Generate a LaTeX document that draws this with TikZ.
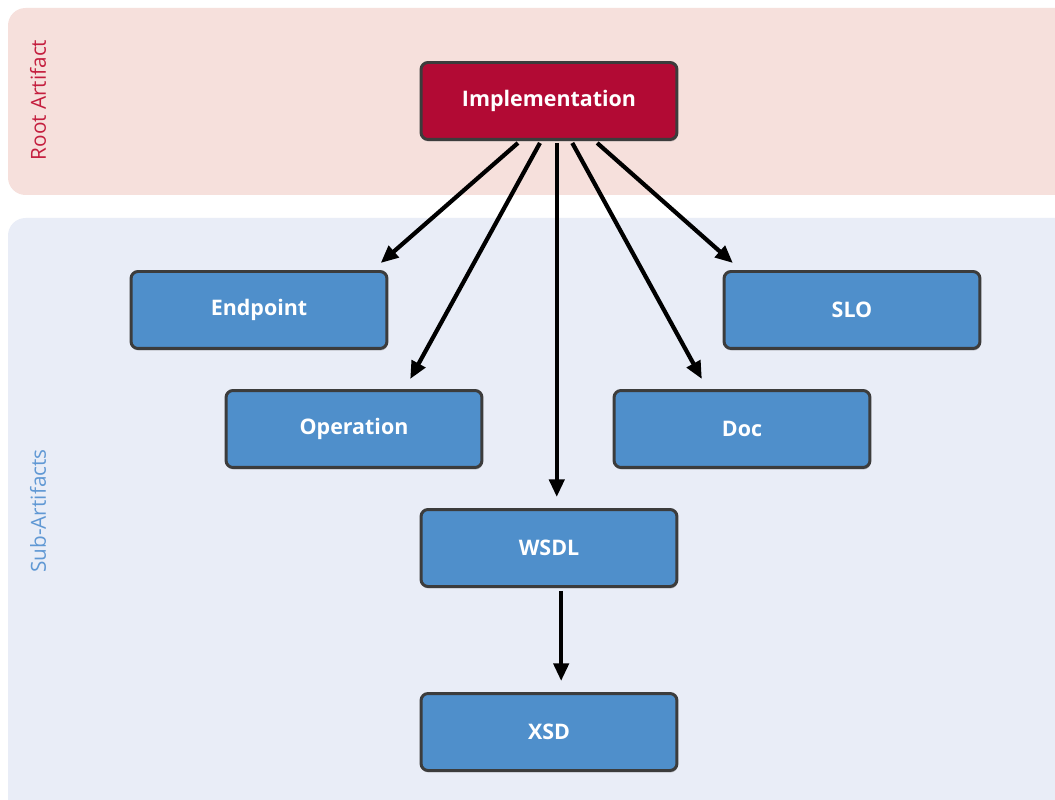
\documentclass[tikz,border=0pt]{standalone}
\usepackage{fontspec}
\setmainfont{Open Sans}
\usetikzlibrary{arrows.meta,calc,shadows}
\definecolor{rootband}{RGB}{246,224,220}
\definecolor{subband}{RGB}{233,237,247}
\definecolor{rootred}{RGB}{178,10,52}
\definecolor{boxblue}{RGB}{79,143,203}
\definecolor{rootlabel}{RGB}{196,30,62}
\definecolor{sublabel}{RGB}{96,152,212}
\definecolor{boxedge}{RGB}{60,60,60}
\tikzset{
  band/.style={rounded corners=10pt, draw=none},
  artbox/.style={rectangle, rounded corners=4pt, minimum width=5.12cm, minimum height=1.54cm,
    draw=boxedge, line width=1.7pt, text=white, font=\bfseries\fontsize{12.2}{14}\selectfont,
    drop shadow={shadow xshift=0.4pt, shadow yshift=-1.2pt, opacity=0.4}},
  rootbox/.style={artbox, fill=rootred},
  subbox/.style={artbox, fill=boxblue},
  arr/.style={-{Triangle[length=10pt,width=8.5pt]}, line width=2.4pt, black},
  bandlabel/.style={rotate=90, font=\fontsize{11.8}{13}\selectfont}
}
\begin{document}
\begin{tikzpicture}[x=0.02cm,y=-0.02cm]
\useasboundingbox (0,0) rectangle (1055,800);
\fill[white] (0,0) rectangle (1055,800);
\fill[band, fill=rootband] (8,8) rectangle (1075,195);
\fill[band, fill=subband] (8,218) rectangle (1075,820);
\node[bandlabel, text=rootlabel] (rootlbl) at (38,100) {Root Artifact};
\node[bandlabel, text=sublabel] (sublbl) at (38,511) {Sub-Artifacts};

\node[rootbox] (impl) at (549,101) {Implementation};
\node[subbox] (ep) at (259,310) {Endpoint};
\node[subbox] (slo) at (852,310) {SLO};
\node[subbox] (op) at (354,429) {Operation};
\node[subbox] (doc) at (742,429) {Doc};
\node[subbox] (wsdl) at (549,548) {WSDL};
\node[subbox] (xsd) at (549,732) {XSD};

\draw[arr] ($(impl.south west)!0.38!(impl.south east)+(0,2)$) -- ($(ep.north west)!0.97!(ep.north east)+(0,-7)$);
\draw[arr] ($(impl.south west)!0.465!(impl.south east)+(0,2)$) -- ($(op.north west)!0.717!(op.north east)+(0,-10)$);
\draw[arr] ($(impl.south west)!0.53!(impl.south east)+(0,2)$) -- ($(wsdl.north west)!0.53!(wsdl.north east)+(0,-11)$);
\draw[arr] ($(impl.south west)!0.59!(impl.south east)+(0,2)$) -- ($(doc.north west)!0.345!(doc.north east)+(0,-10)$);
\draw[arr] ($(impl.south west)!0.686!(impl.south east)+(0,2)$) -- ($(slo.north west)!0.04!(slo.north east)+(0,-7)$);
\draw[arr] ($(wsdl.south west)!0.547!(wsdl.south east)+(0,3)$) -- ($(xsd.north west)!0.547!(xsd.north east)+(0,-11)$);
\end{tikzpicture}
\end{document}
